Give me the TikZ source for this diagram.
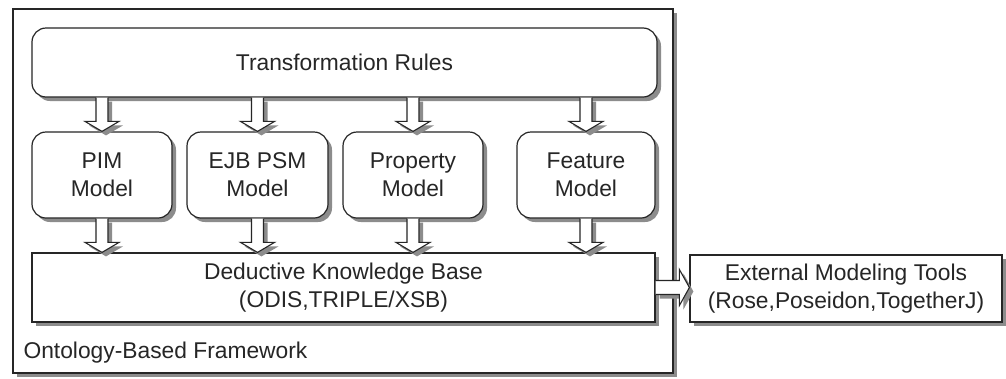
\documentclass[tikz,border=0pt]{standalone}
\usepackage{fontspec}
\setmainfont{Liberation Sans}
\usetikzlibrary{calc,shadows}

\begin{document}
\begin{tikzpicture}[x=1pt,y=-1pt,
    every node/.style={font=\fontsize{22.8}{28}\selectfont, text=black!85},
    shade box/.style={drop shadow={shadow xshift=4pt, shadow yshift=-4pt, fill=gray!90, opacity=1}},
    plainbox/.style={draw=black!85, line width=1.2pt, fill=white, shade box, align=center, inner sep=0pt},
    roundbox/.style={plainbox, rounded corners=14pt},
    fatdown/.style={draw=black!85, line width=1.1pt, fill=white, shade box,
        to path={let \p1=(\tikztostart), \p2=(\tikztotarget) in
        (\x1-6pt,\y1) -- (\x1-6pt,\y2+10pt) -- (\x1-17pt,\y2+10pt) -- (\x2,\y2)
        -- (\x1+17pt,\y2+10pt) -- (\x1+6pt,\y2+10pt) -- (\x1+6pt,\y1)}},
    fatright/.style={draw=black!85, line width=1.1pt, fill=white, shade box,
        to path={let \p1=(\tikztostart), \p2=(\tikztotarget) in
        (\x1,\y1+7pt) -- (\x2-10pt,\y1+7pt) -- (\x2-10pt,\y1+18pt) -- (\x2,\y2)
        -- (\x2-10pt,\y1-18pt) -- (\x2-10pt,\y1-7pt) -- (\x1,\y1-7pt)}}]
    \useasboundingbox (0,0) rectangle (1006,378);
    \node[plainbox, line width=1.6pt, minimum width=660pt, minimum height=364pt] (frame) at (343,191) {};
    \node[anchor=west] (fwlabel) at (20,353) {Ontology-Based Framework};
    \node[roundbox, minimum width=625pt, minimum height=69pt] (rules) at (344.5,62.5) {Transformation Rules};
    \node[roundbox, minimum width=140pt, minimum height=86pt] (pim) at (102,175) {PIM\\Model};
    \node[roundbox, minimum width=141pt, minimum height=86pt] (ejb) at (257.5,175) {EJB PSM\\Model};
    \node[roundbox, minimum width=140pt, minimum height=86pt] (prop) at (413,175) {Property\\Model};
    \node[roundbox, minimum width=138pt, minimum height=86pt] (feat) at (586,175) {Feature\\Model};
    \node[plainbox, minimum width=623pt, minimum height=69pt] (kb) at (343.5,287.5) {Deductive Knowledge Base\\(ODIS,TRIPLE/XSB)};
    \node[plainbox, minimum width=312pt, minimum height=67pt] (ext) at (846,288.5) {External Modeling Tools\\(Rose,Poseidon,TogetherJ)};
    \foreach \m in {pim,ejb,prop,feat} {
        \path[fatdown] (rules.south -| \m.north) to (\m.north);
        \path[fatdown] (\m.south) to (kb.north -| \m.south);
    }
    \path[fatright] (kb.east) to (kb.east -| ext.west);
\end{tikzpicture}
\end{document}
